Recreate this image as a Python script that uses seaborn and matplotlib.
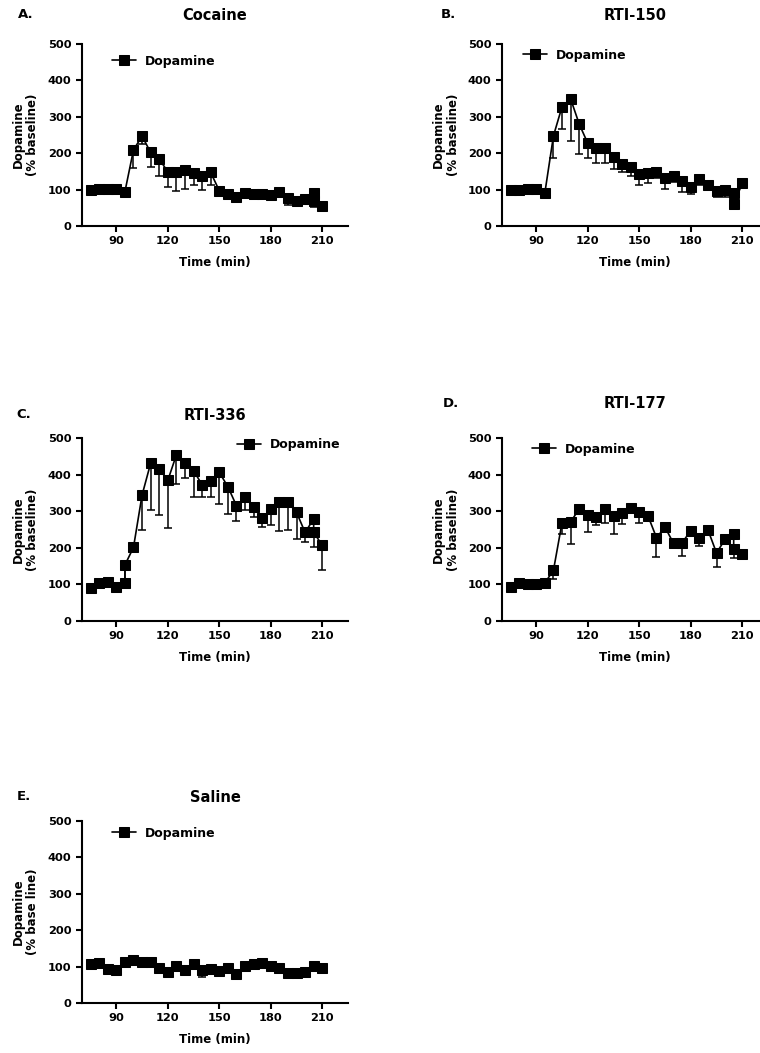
import matplotlib
matplotlib.use('Agg')
import matplotlib.pyplot as plt
import seaborn as sns

sns.set_style('ticks')
plt.rcParams['font.family'] = ['DejaVu Sans']
plt.rcParams['font.weight'] = 'bold'
plt.rcParams['axes.labelweight'] = 'bold'
for key in ['text.color', 'axes.labelcolor', 'xtick.color', 'ytick.color', 'axes.edgecolor']:
    plt.rcParams[key] = 'black'

# ---- data (time in min, dopamine % baseline, lower error bar) ----
times_a = [75, 80, 85, 90, 95, 100, 105, 110, 115, 120, 125, 130, 135, 140, 145, 150,
           155, 160, 165, 170, 175, 180, 185, 190, 195, 200, 205, 205, 210]
cocaine = [99, 103, 101, 101, 94, 209, 247, 202, 184, 149, 147, 154, 145, 138, 147, 97,
           88, 81, 90, 88, 88, 85, 94, 76, 70, 74, 90, 68, 55]
cocaine_err = [0, 0, 0, 0, 0, 51, 22, 39, 47, 41, 51, 51, 32, 39, 34, 0,
               0, 0, 0, 0, 0, 0, 0, 18, 0, 0, 0, 17, 0]

times_b = [75, 80, 85, 90, 95, 100, 105, 110, 115, 120, 125, 130, 135, 140, 145, 150,
           155, 160, 165, 170, 175, 180, 185, 190, 195, 200, 205, 205, 210]
rti150 = [99, 99, 103, 101, 92, 248, 328, 349, 280, 227, 213, 213, 190, 170, 161, 142,
          145, 149, 131, 138, 125, 106, 128, 114, 97, 99, 90, 60, 117]
rti150_err = [0, 0, 0, 0, 0, 60, 62, 115, 83, 41, 39, 39, 34, 21, 24, 29,
              28, 18, 28, 16, 31, 19, 15, 13, 16, 18, 0, 0, 0]

times_c = [75, 80, 85, 90, 95, 95, 100, 105, 110, 115, 120, 125, 130, 135, 140, 145, 150,
           155, 160, 165, 170, 175, 180, 185, 190, 195, 200, 205, 205, 210]
rti336 = [89, 104, 107, 93, 104, 153, 201, 344, 431, 416, 384, 454, 433, 411, 372, 383, 406,
          367, 315, 338, 312, 281, 305, 324, 324, 297, 242, 279, 242, 207]
rti336_err = [0, 0, 0, 0, 0, 37, 0, 95, 128, 126, 131, 80, 43, 73, 34, 45, 86,
              75, 41, 35, 29, 25, 43, 77, 75, 74, 25, 0, 41, 68]

times_d = [75, 80, 85, 90, 95, 100, 105, 110, 115, 120, 125, 130, 135, 140, 145, 150,
           155, 160, 165, 170, 175, 180, 185, 190, 195, 200, 205, 205, 210]
rti177 = [93, 104, 102, 102, 104, 139, 269, 271, 306, 290, 283, 305, 287, 294, 308, 299,
          288, 228, 256, 212, 214, 247, 226, 249, 186, 223, 237, 196, 183]
rti177_err = [0, 0, 0, 0, 0, 23, 30, 61, 0, 46, 21, 38, 48, 29, 0, 32,
              0, 54, 0, 0, 36, 0, 20, 0, 38, 0, 0, 25, 0]

times_e = [75, 80, 85, 90, 95, 100, 105, 110, 115, 120, 125, 130, 135, 140, 145, 150,
           155, 160, 165, 170, 175, 180, 185, 190, 195, 200, 205, 210]
saline = [108, 111, 94, 92, 113, 119, 113, 113, 96, 85, 103, 92, 106, 92, 94, 88,
          96, 81, 101, 106, 111, 101, 97, 83, 83, 85, 102, 97]
saline_err = [0, 0, 0, 0, 0, 13, 0, 0, 0, 0, 0, 0, 0, 21, 0, 0,
              0, 11, 0, 0, 0, 0, 0, 0, 0, 0, 0, 0]

x_ticks = [90, 120, 150, 180, 210]
y_ticks = [0, 100, 200, 300, 400, 500]

W, H = 760, 1053
fig = plt.figure(figsize=(W / 100, H / 100), dpi=100)


def rect(l, t, w, h):
    return [l / W, 1 - (t + h) / H, w / W, h / H]


# letter, title, x, y, err, ylabel, axes box (px), legend anchor (px), header y (px), letter x
panels = [
    ('A.', 'Cocaine', times_a, cocaine, cocaine_err, 'Dopamine\n(% baseline)',
     (82, 44, 266, 182), (112, 61), 15, 18),
    ('B.', 'RTI-150', times_b, rti150, rti150_err, 'Dopamine\n(% baseline)',
     (502, 44, 266, 182), (523, 55), 15, 441),
    ('C.', 'RTI-336', times_c, rti336, rti336_err, 'Dopamine\n(% baseline)',
     (82, 438, 266, 183), (237, 445), 415, 16),
    ('D.', 'RTI-177', times_d, rti177, rti177_err, 'Dopamine\n(% baseline)',
     (502, 438, 266, 183), (532, 449), 404, 443),
    ('E.', 'Saline', times_e, saline, saline_err, 'Dopamine\n(% base line)',
     (82, 821, 266, 182), (112, 833), 797, 17),
]

for letter, title, xs, ys, errs, ylab, box, leg, hy, lx in panels:
    ax = fig.add_axes(rect(*box))
    # one-sided (downward) error bars, only where a bar is visible
    ex = [x for x, e in zip(xs, errs) if e > 0]
    ey = [y for y, e in zip(ys, errs) if e > 0]
    ee = [e for e in errs if e > 0]
    ax.errorbar(ex, ey, yerr=[ee, [0] * len(ee)], fmt='none', ecolor='black',
                elinewidth=1.1, capsize=3, capthick=1.1, zorder=2)
    sns.lineplot(x=xs, y=ys, ax=ax, color='black', marker='s', markersize=7,
                 markeredgecolor='black', linewidth=1.2, sort=False, estimator=None,
                 errorbar=None, label='Dopamine', zorder=3)
    ax.set_xlim(70, 225)
    ax.set_ylim(0, 500)
    ax.set_xticks(x_ticks)
    ax.set_yticks(y_ticks)
    ax.tick_params(labelsize=8.2, width=1.5, length=4)
    for lab in ax.get_xticklabels() + ax.get_yticklabels():
        lab.set_fontweight('bold')
    ax.set_xlabel('Time (min)', fontsize=8.5, fontweight='bold', labelpad=7)
    ax.set_ylabel(ylab, fontsize=8.5, fontweight='bold', labelpad=6)
    sns.despine(ax=ax)
    for s in ['left', 'bottom']:
        ax.spines[s].set_linewidth(1.5)
    ax.legend(loc='center left', bbox_to_anchor=(leg[0] / W, 1 - leg[1] / H),
              bbox_transform=fig.transFigure, frameon=False, borderpad=0,
              borderaxespad=0, handlelength=1.9, handletextpad=0.7,
              prop={'size': 9, 'weight': 'bold'})
    cx = box[0] + box[2] / 2
    fig.text(cx / W, 1 - hy / H, title, ha='center', va='center',
             fontsize=10.5, fontweight='bold')
    fig.text(lx / W, 1 - hy / H, letter, ha='left', va='center',
             fontsize=9.5, fontweight='bold')

fig.savefig('out.png', dpi=100)
